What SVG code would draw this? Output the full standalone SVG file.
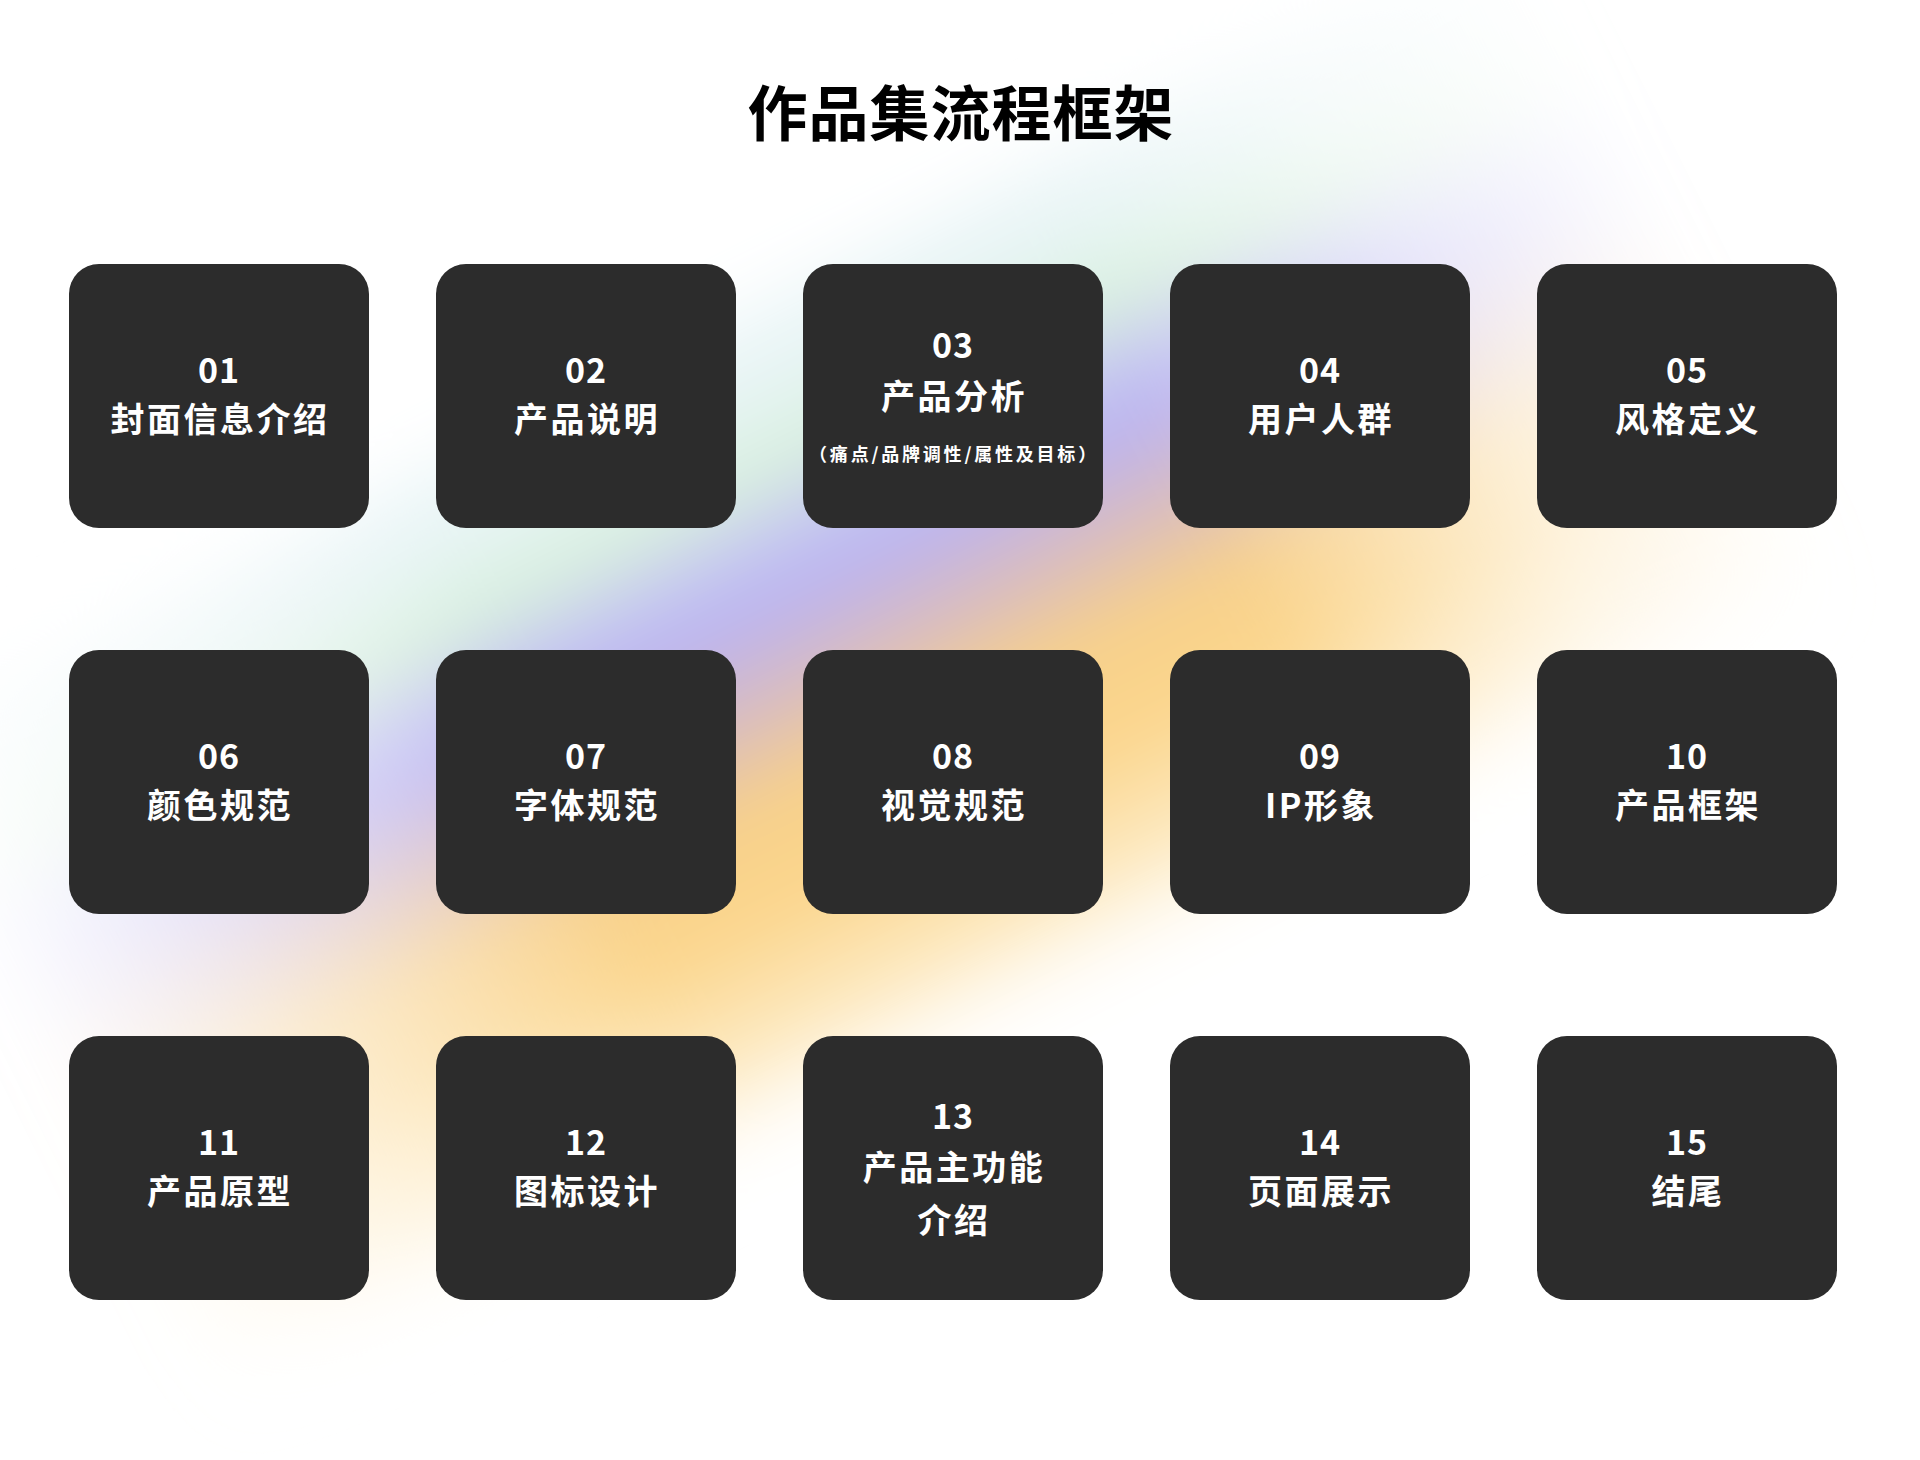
<svg xmlns="http://www.w3.org/2000/svg" width="1920" height="1460" viewBox="0 0 1920 1460">
  <style>
    .box { fill: #2c2c2c; }
    .t { font-family: "Noto Sans CJK SC", "Noto Sans", sans-serif; font-weight: 700; fill: #ffffff; text-anchor: middle; }
    .num { font-size: 34px; letter-spacing: 1px; }
    .lbl { font-size: 34px; letter-spacing: 2.5px; }
    .sub { font-size: 18px; letter-spacing: 2.8px; }
    .title { font-family: "Noto Sans CJK SC", "Noto Sans", sans-serif; font-weight: 700; font-size: 60px; letter-spacing: 1px; fill: #000000; text-anchor: middle; }
  </style>
  <defs>
    <linearGradient id="band" gradientUnits="userSpaceOnUse" x1="0" y1="560" x2="0" y2="1400">
      <stop offset="0" stop-color="#ffffff" stop-opacity="0"/>
      <stop offset="0.083" stop-color="#eef7f9"/>
      <stop offset="0.167" stop-color="#e4f3f1"/>
      <stop offset="0.238" stop-color="#d9f1de"/>
      <stop offset="0.321" stop-color="#c6c7ef"/>
      <stop offset="0.381" stop-color="#bab4f3"/>
      <stop offset="0.476" stop-color="#d4bac7"/>
      <stop offset="0.595" stop-color="#f7d08b"/>
      <stop offset="0.714" stop-color="#fbd68d"/>
      <stop offset="0.857" stop-color="#fdeac3"/>
      <stop offset="1" stop-color="#ffffff" stop-opacity="0"/>
    </linearGradient>
    <linearGradient id="fadeGrad" gradientUnits="userSpaceOnUse" x1="-450" y1="0" x2="1400" y2="0">
      <stop offset="0" stop-color="#ffffff" stop-opacity="0"/>
      <stop offset="0.189" stop-color="#ffffff" stop-opacity="0.55"/>
      <stop offset="0.324" stop-color="#ffffff" stop-opacity="1"/>
      <stop offset="0.703" stop-color="#ffffff" stop-opacity="1"/>
      <stop offset="0.865" stop-color="#ffffff" stop-opacity="0.35"/>
      <stop offset="1" stop-color="#ffffff" stop-opacity="0"/>
    </linearGradient>
    <mask id="fade" maskUnits="userSpaceOnUse" x="-700" y="400" width="2300" height="1200">
      <rect x="-700" y="400" width="2300" height="1200" fill="url(#fadeGrad)"/>
    </mask>
    <filter id="soft" x="-20%" y="-20%" width="140%" height="140%">
      <feGaussianBlur stdDeviation="28"/>
    </filter>
  </defs>

  <rect x="0" y="0" width="1920" height="1460" fill="#ffffff"/>
  <g id="background" transform="rotate(-26.57)">
    <g filter="url(#soft)">
      <rect x="-600" y="560" width="2100" height="840" fill="url(#band)" mask="url(#fade)"/>
    </g>
  </g>

  <text class="title" x="961" y="136">作品集流程框架</text>

  <g id="connectors"></g>

  <g id="node01">
    <rect class="box" x="69" y="264" width="300" height="264" rx="30"/>
    <text class="t num" x="219" y="383">01</text>
    <text class="t lbl" x="220" y="432">封面信息介绍</text>
  </g>
  <g id="node02">
    <rect class="box" x="436" y="264" width="300" height="264" rx="30"/>
    <text class="t num" x="586" y="383">02</text>
    <text class="t lbl" x="587" y="432">产品说明</text>
  </g>
  <g id="node03">
    <rect class="box" x="803" y="264" width="300" height="264" rx="30"/>
    <text class="t num" x="953" y="358">03</text>
    <text class="t lbl" x="954" y="409">产品分析</text>
    <text class="t sub" x="954" y="461">（痛点/品牌调性/属性及目标）</text>
  </g>
  <g id="node04">
    <rect class="box" x="1170" y="264" width="300" height="264" rx="30"/>
    <text class="t num" x="1320" y="383">04</text>
    <text class="t lbl" x="1321" y="432">用户人群</text>
  </g>
  <g id="node05">
    <rect class="box" x="1537" y="264" width="300" height="264" rx="30"/>
    <text class="t num" x="1687" y="383">05</text>
    <text class="t lbl" x="1688" y="432">风格定义</text>
  </g>

  <g id="node06">
    <rect class="box" x="69" y="650" width="300" height="264" rx="30"/>
    <text class="t num" x="219" y="769">06</text>
    <text class="t lbl" x="220" y="818">颜色规范</text>
  </g>
  <g id="node07">
    <rect class="box" x="436" y="650" width="300" height="264" rx="30"/>
    <text class="t num" x="586" y="769">07</text>
    <text class="t lbl" x="587" y="818">字体规范</text>
  </g>
  <g id="node08">
    <rect class="box" x="803" y="650" width="300" height="264" rx="30"/>
    <text class="t num" x="953" y="769">08</text>
    <text class="t lbl" x="954" y="818">视觉规范</text>
  </g>
  <g id="node09">
    <rect class="box" x="1170" y="650" width="300" height="264" rx="30"/>
    <text class="t num" x="1320" y="769">09</text>
    <text class="t lbl" x="1321" y="818">IP形象</text>
  </g>
  <g id="node10">
    <rect class="box" x="1537" y="650" width="300" height="264" rx="30"/>
    <text class="t num" x="1687" y="769">10</text>
    <text class="t lbl" x="1688" y="818">产品框架</text>
  </g>

  <g id="node11">
    <rect class="box" x="69" y="1036" width="300" height="264" rx="30"/>
    <text class="t num" x="219" y="1155">11</text>
    <text class="t lbl" x="220" y="1204">产品原型</text>
  </g>
  <g id="node12">
    <rect class="box" x="436" y="1036" width="300" height="264" rx="30"/>
    <text class="t num" x="586" y="1155">12</text>
    <text class="t lbl" x="587" y="1204">图标设计</text>
  </g>
  <g id="node13">
    <rect class="box" x="803" y="1036" width="300" height="264" rx="30"/>
    <text class="t num" x="953" y="1129">13</text>
    <text class="t lbl" x="954" y="1180">产品主功能</text>
    <text class="t lbl" x="954" y="1233">介绍</text>
  </g>
  <g id="node14">
    <rect class="box" x="1170" y="1036" width="300" height="264" rx="30"/>
    <text class="t num" x="1320" y="1155">14</text>
    <text class="t lbl" x="1321" y="1204">页面展示</text>
  </g>
  <g id="node15">
    <rect class="box" x="1537" y="1036" width="300" height="264" rx="30"/>
    <text class="t num" x="1687" y="1155">15</text>
    <text class="t lbl" x="1688" y="1204">结尾</text>
  </g>
</svg>
